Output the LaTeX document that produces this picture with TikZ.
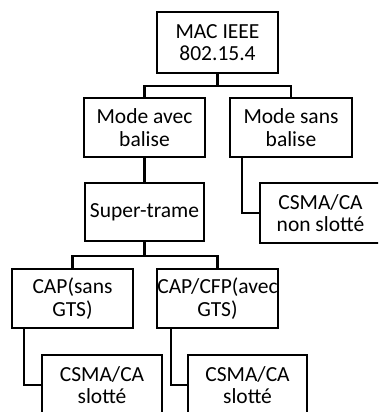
\documentclass[tikz,border=0pt]{standalone}
\usepackage{fontspec}
\setmainfont{Carlito}
\begin{document}
\begin{tikzpicture}[x=1pt,y=-1pt,
  box/.style={draw,line width=2.6pt,rectangle,inner sep=0pt,align=center,
    font=\fontsize{21.5}{22.5}\selectfont,minimum width=121pt,minimum height=59pt},
  link/.style={line width=2.6pt}]
\path[use as bounding box,clip] (0,0) rectangle (378,412);
\node[box] (mac) at (217.5,42.5) [minimum height=61pt] {MAC IEEE\\802.15.4};
\node[box] (avec) at (144.5,127.5) {Mode avec\\balise};
\node[box,minimum width=122pt] (sans) at (291,127.5) {Mode sans\\balise};
\node[box,minimum width=119pt,minimum height=58pt] (super) at (144.5,212) {Super-trame};
\node[box,minimum height=60pt] (nonslot) at (320.5,213) {CSMA/CA\\non slotté};
\node[box] (capsans) at (72.5,298.5) {CAP(sans\\GTS)};
\node[box] (capavec) at (217.5,298.5) {CAP/CFP(avec\\GTS)};
\node[box,minimum width=120pt,minimum height=60pt] (slot1) at (102,385) {CSMA/CA\\slotté};
\node[box,minimum width=119pt,minimum height=60pt] (slot2) at (247.5,385) {CSMA/CA\\slotté};
\coordinate (j1) at (217.5,86);
\coordinate (j2) at (144.5,256);
\draw[link] (mac.south) -- (j1);
\draw[link] (avec.north) |- (j1) -| (sans.north);
\draw[link] (avec.south) -- (super.north);
\draw[link] ([xshift=-49pt]sans.south) |- (nonslot.west);
\draw[link] (super.south) -- (j2);
\draw[link] (capsans.north) |- (j2) -| (capavec.north);
\draw[link] ([xshift=-48.5pt]capsans.south) |- (slot1.west);
\draw[link] ([xshift=-46.5pt]capavec.south) |- (slot2.west);
\end{tikzpicture}
\end{document}
